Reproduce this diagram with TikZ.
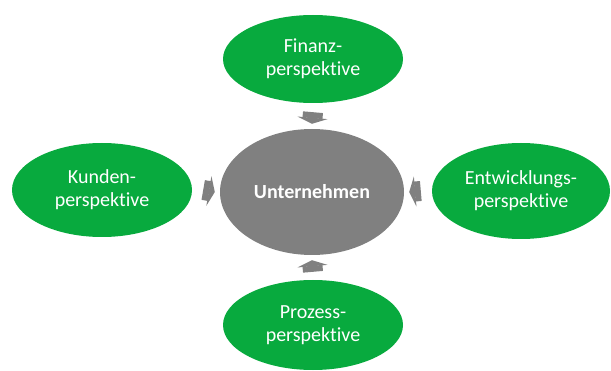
\documentclass[tikz,border=0pt]{standalone}
\usepackage{fontspec}
\setmainfont[Ligatures=NoCommon]{Carlito}
\usepackage{xcolor}
\usetikzlibrary{shapes.geometric,arrows.meta}

\definecolor{gruen}{RGB}{8,170,62}
\definecolor{grau}{RGB}{128,128,128}

\begin{document}
\begin{tikzpicture}[x=1pt,y=1pt,
    perspektive/.style={ellipse,fill=gruen,inner sep=0pt,text=white,align=center,
      font=\fontsize{20}{23}\selectfont},
    mitte/.style={ellipse,fill=grau,inner sep=0pt,text=white,
      font=\fontsize{20}{23}\selectfont\bfseries},
    pfeil/.style={grau,line width=20pt,-{Triangle[width=30pt,length=6pt]}}]
    \pgfmathsetmacro{\abstand}{5}

    \useasboundingbox (0,0) rectangle (611,370);

    % Unternehmen in der Mitte
    \node[mitte,minimum width=184pt,minimum height=126pt] (unternehmen) at (312,178) {Unternehmen};

    % Perspektiven
    \node[perspektive,minimum width=180pt,minimum height=88pt] (finanz) at (313,311) {Finanz-\\perspektive};
    \node[perspektive,minimum width=180pt,minimum height=94pt] (kunden) at (102,180) {Kunden-\\perspektive};
    \node[perspektive,minimum width=178pt,minimum height=96pt] (entwicklung) at (521,179) {Entwicklungs-\\perspektive};
    \node[perspektive,minimum width=180pt,minimum height=90pt] (prozess) at (313,45) {Prozess-\\perspektive};

    % Pfeile
    \draw[pfeil] ([yshift=-9pt]finanz.south) -- ([yshift=\abstand pt]unternehmen.north);
    \draw[pfeil] ([xshift=11pt]kunden.east) -- ([xshift=-\abstand pt]unternehmen.west);
    \draw[pfeil] ([xshift=-11pt]entwicklung.west) -- ([xshift=\abstand pt]unternehmen.east);
    \draw[pfeil] ([yshift=8pt]prozess.north) -- ([yshift=-\abstand pt]unternehmen.south);
\end{tikzpicture}
\end{document}
